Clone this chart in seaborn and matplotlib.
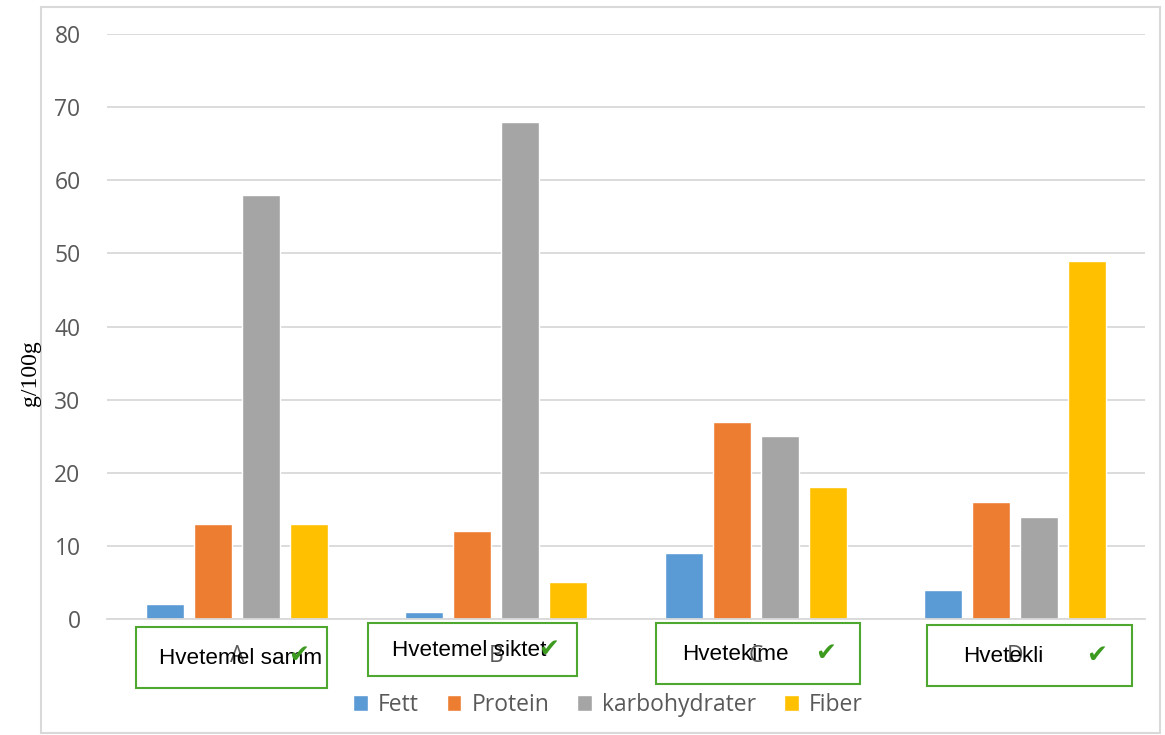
import matplotlib
matplotlib.use("Agg")
import matplotlib.pyplot as plt
from matplotlib.patches import Rectangle
import seaborn as sns
import pandas as pd

# Nutrient content per 100 g for four wheat products
categories = ["A", "B", "C", "D"]
nutrients = ["Fett", "Protein", "karbohydrater", "Fiber"]
fett = [2, 1, 9, 4]
protein = [13, 12, 27, 16]
karbohydrater = [58, 68, 25, 14]
fiber = [13, 5, 18, 49]
product_names = ["Hvetemel samm", "Hvetemel siktet", "Hvetekime", "Hvetekli"]
yticks = [0, 10, 20, 30, 40, 50, 60, 70, 80]

colors = ["#5B9BD5", "#ED7D31", "#A5A5A5", "#FFC000"]

rows = []
for name, vals in zip(nutrients, [fett, protein, karbohydrater, fiber]):
    for cat, v in zip(categories, vals):
        rows.append({"Kategori": cat, "Næring": name, "Verdi": v})
df = pd.DataFrame(rows)

sns.set_theme(style="white")
plt.rcParams["font.family"] = ["Open Sans", "DejaVu Sans"]

W, H = 1165, 735
fig = plt.figure(figsize=(W / 100, H / 100), dpi=100)
fig.patch.set_facecolor("white")

# axes placed in pixel terms
ax_l, ax_r, ax_t, ax_b = 107, 1145, 34, 619
ax = fig.add_axes([ax_l / W, (H - ax_b) / H, (ax_r - ax_l) / W, (ax_b - ax_t) / H])

sns.barplot(data=df, x="Kategori", y="Verdi", hue="Næring", order=categories,
            hue_order=nutrients, palette=colors, width=0.74, gap=0.2,
            saturation=1, ax=ax, legend=True)

ax.set_ylim(0, 80)
ax.set_xlim(-0.5, 3.5)
ax.set_yticks(yticks)
ax.yaxis.grid(True, color="#D9D9D9", linewidth=1.3)
ax.set_axisbelow(True)
for s in ["top", "right", "left"]:
    ax.spines[s].set_visible(False)
ax.spines["bottom"].set_color("#D9D9D9")
ax.spines["bottom"].set_linewidth(1.3)
ax.tick_params(axis="y", length=0, pad=19, labelsize=16.5, labelcolor="#595959")
ax.tick_params(axis="x", length=0, pad=18, labelsize=16.5, labelcolor="#595959")
ax.set_xlabel("")
ax.set_ylabel("")

fig.text(30 / W, 1 - 373 / H, "g/100g", rotation=90, ha="center", va="center",
         fontsize=17, family=["Liberation Serif", "DejaVu Serif"], color="black")

# legend below the plot
handles, labels = ax.get_legend_handles_labels()
ax.legend_.remove()
fig.legend(handles, labels, loc="center", bbox_to_anchor=(608 / W, 1 - 705 / H),
           ncol=4, frameon=False, fontsize=16.5, handlelength=0.65, handleheight=0.65,
           handletextpad=0.45, columnspacing=1.2, labelcolor="#595959")

# outer chart frame
fig.patches.append(Rectangle((41 / W, 1 - 733 / H), (1160 - 41) / W, (733 - 7) / H,
                             transform=fig.transFigure, fill=False,
                             edgecolor="#D9D9D9", linewidth=1.5))

# labelled boxes under each group: (left, top, right, bottom), text x-span start, text y, check x, check y
boxes = [
    ((136, 627, 327, 688), 159, 659, 299, 655),
    ((368, 623, 577, 676), 392, 650, 549, 649),
    ((656, 623, 860, 684), 682, 654, 826, 653),
    ((927, 625, 1132, 686), 963, 657, 1097, 655),
]
for name, (rect, tx, ty, cx, cy) in zip(product_names, boxes):
    l, t, r, b = rect
    fig.patches.append(Rectangle((l / W, 1 - b / H), (r - l) / W, (b - t) / H,
                                 transform=fig.transFigure, fill=False,
                                 edgecolor="#4EA72E", linewidth=1.5, zorder=5))
    fig.text(tx / W, 1 - ty / H, name, ha="left", va="center", fontsize=16.2,
             family=["Liberation Sans", "DejaVu Sans"], color="black", zorder=6)
    fig.text(cx / W, 1 - cy / H, "\u2714", ha="center", va="center", fontsize=18,
             fontweight="bold", family=["DejaVu Sans"], color="#3C9A1F", zorder=7)

fig.savefig("out.png", dpi=100, facecolor="white")
